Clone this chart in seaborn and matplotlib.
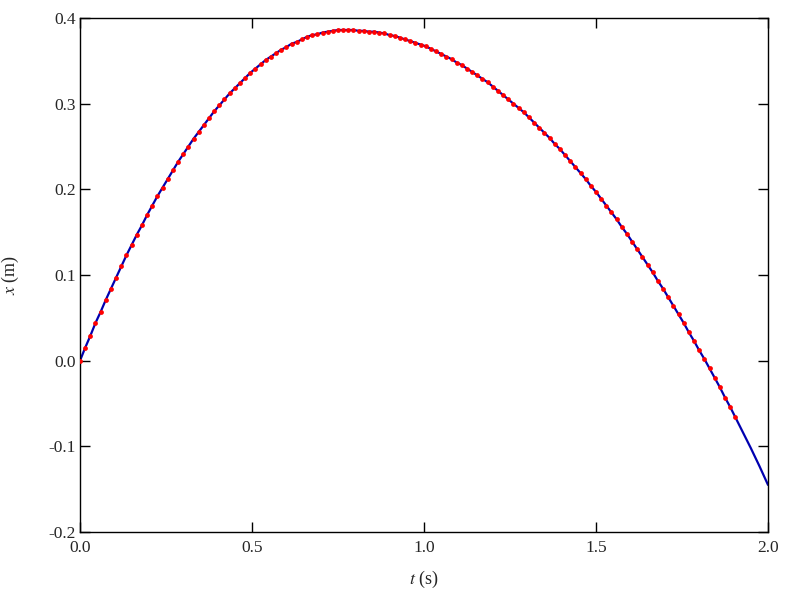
import numpy as np
import matplotlib
matplotlib.use("Agg")
import matplotlib.pyplot as plt
import seaborn as sns

# sampled positions (one frame every 0.015 s)
dt = 0.015
x_obs = [
    0.000, 0.015, 0.029, 0.044, 0.057, 0.071, 0.084, 0.097, 0.110, 0.123,
    0.135, 0.147, 0.158, 0.170, 0.181, 0.192, 0.202, 0.212, 0.222, 0.232,
    0.241, 0.250, 0.259, 0.267, 0.275, 0.283, 0.291, 0.298, 0.305, 0.312,
    0.318, 0.324, 0.330, 0.336, 0.341, 0.346, 0.351, 0.355, 0.359, 0.363,
    0.366, 0.370, 0.372, 0.375, 0.378, 0.380, 0.381, 0.383, 0.384, 0.385,
    0.386, 0.386, 0.386, 0.386, 0.385, 0.385, 0.384, 0.384, 0.383, 0.382,
    0.380, 0.379, 0.377, 0.375, 0.373, 0.371, 0.369, 0.367, 0.364, 0.361,
    0.358, 0.355, 0.352, 0.348, 0.345, 0.341, 0.337, 0.333, 0.329, 0.325,
    0.320, 0.315, 0.310, 0.305, 0.300, 0.295, 0.290, 0.284, 0.278, 0.272,
    0.266, 0.260, 0.253, 0.247, 0.240, 0.233, 0.226, 0.219, 0.212, 0.204,
    0.197, 0.189, 0.181, 0.173, 0.165, 0.156, 0.148, 0.139, 0.130, 0.121,
    0.112, 0.103, 0.093, 0.084, 0.074, 0.064, 0.054, 0.044, 0.033, 0.023,
    0.012, 0.002, -0.009, -0.020, -0.031, -0.043, -0.054, -0.066,
]
t_obs = np.arange(len(x_obs)) * dt

# fitted curve continues past the last frame
t_tail = [1.925, 1.95, 1.975, 2.0]
x_tail = [-0.082, -0.102, -0.123, -0.145]

t_fit = np.concatenate([t_obs, t_tail])
x_fit = np.concatenate([x_obs, x_tail])

sns.set_style("ticks")
plt.rcParams["font.family"] = ["Liberation Serif", "DejaVu Serif"]
plt.rcParams["mathtext.fontset"] = "stix"
plt.rcParams["axes.unicode_minus"] = False
plt.rcParams["xtick.direction"] = "in"
plt.rcParams["ytick.direction"] = "in"

fig = plt.figure(figsize=(8.03, 5.90), dpi=100)
ax = fig.add_axes([80 / 803, 1 - 532 / 590, 688 / 803, 514 / 590])

sns.lineplot(x=t_fit, y=x_fit, ax=ax, color="#0000b0", linewidth=1.6, sort=False)
sns.scatterplot(x=t_obs, y=x_obs, ax=ax, color="red", s=12, linewidth=0, zorder=3)

ax.set_xlim(0, 2)
ax.set_ylim(-0.2, 0.4)
ax.set_xticks([0.0, 0.5, 1.0, 1.5, 2.0])
ax.set_yticks([-0.2, -0.1, 0.0, 0.1, 0.2, 0.3, 0.4])
ax.xaxis.set_major_formatter(matplotlib.ticker.FormatStrFormatter("%.1f"))
ax.yaxis.set_major_formatter(matplotlib.ticker.FormatStrFormatter("%.1f"))
ax.tick_params(which="both", top=True, right=True, length=7, width=1,
               labelsize=12.5, color="black")
ax.tick_params(axis="x", pad=6)
ax.tick_params(axis="y", pad=3)
for sp in ax.spines.values():
    sp.set_color("black")
    sp.set_linewidth(1)

ax.set_xlabel(r"$t$ (s)", fontsize=13, labelpad=9)
ax.set_ylabel(r"$x$ (m)", fontsize=13, labelpad=20)

fig.savefig("out.png", dpi=100)
